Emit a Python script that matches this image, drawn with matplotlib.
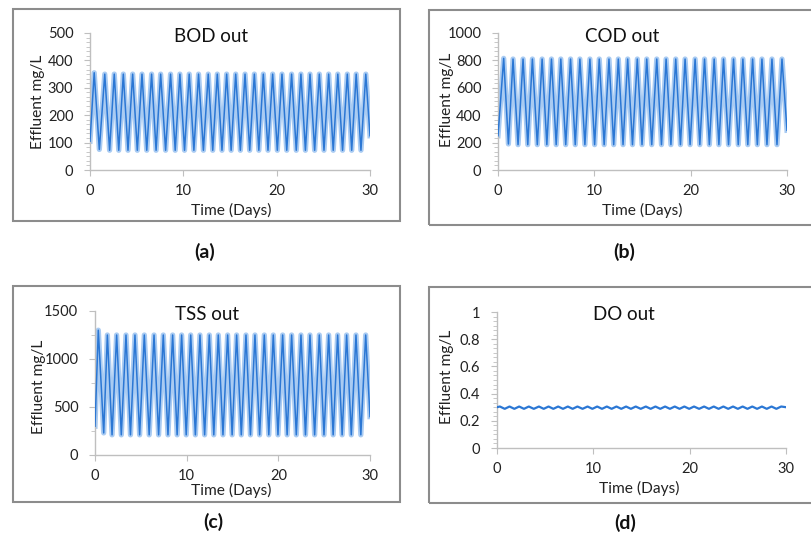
import matplotlib
matplotlib.use("Agg")
import matplotlib.pyplot as plt
from matplotlib.patches import Rectangle
from matplotlib.ticker import MultipleLocator

plt.rcParams['font.family'] = ['Lato', 'DejaVu Sans']

# ---------------- data (vertices of the oscillation) -------------
days_ticks = [0, 10, 20, 30]

bod_start = (0.0, 105)
bod_end = (30.0, 125)
bod_peak_t = [0.45, 1.58, 2.6, 3.57, 4.57, 5.57, 6.6, 7.57, 8.63, 9.63, 10.63, 11.63, 12.67, 13.64, 14.64,
              15.61, 16.61, 17.61, 18.57, 19.57, 20.57, 21.6, 22.6, 23.57, 24.57, 25.57, 26.55, 27.57, 28.52, 29.55]
bod_peak_v = [355, 350, 350, 350, 350, 350, 350, 350, 350, 350, 350, 350, 350, 350, 350,
              350, 350, 350, 350, 350, 350, 350, 350, 350, 350, 350, 350, 350, 350, 350]
bod_trough_t = [1.0, 2.1, 3.08, 4.07, 5.07, 6.08, 7.08, 8.1, 9.13, 10.13, 11.13, 12.15, 13.15, 14.14, 15.12,
                16.11, 17.11, 18.09, 19.07, 20.07, 21.08, 22.1, 23.08, 24.07, 25.07, 26.06, 27.06, 28.04, 29.03]
bod_trough_v = [75, 72, 72, 72, 72, 72, 72, 72, 72, 72, 72, 72, 72, 72, 72,
                72, 72, 72, 72, 72, 72, 72, 72, 72, 72, 72, 72, 72, 72]

cod_start = (0.0, 250)
cod_end = (30.0, 290)
cod_peak_t = [0.59, 1.56, 2.6, 3.57, 4.58, 5.55, 6.52, 7.53, 8.5, 9.54, 10.51, 11.52, 12.49, 13.46, 14.46,
              15.44, 16.48, 17.45, 18.45, 19.42, 20.46, 21.44, 22.44, 23.41, 24.45, 25.42, 26.43, 27.4, 28.44, 29.48]
cod_peak_v = [815, 810, 810, 810, 810, 810, 810, 810, 810, 810, 810, 810, 810, 810, 810,
              810, 810, 810, 810, 810, 810, 810, 810, 810, 810, 810, 810, 810, 810, 810]
cod_trough_t = [1.08, 2.08, 3.09, 4.08, 5.07, 6.04, 7.03, 8.02, 9.02, 10.03, 11.02, 12.01, 12.98, 13.96, 14.95,
                15.96, 16.97, 17.95, 18.94, 19.94, 20.95, 21.94, 22.93, 23.93, 24.94, 25.93, 26.92, 27.92, 28.96]
cod_trough_v = [190, 185, 185, 185, 185, 185, 185, 185, 185, 185, 185, 185, 185, 185, 185,
                185, 185, 185, 185, 185, 185, 185, 185, 185, 185, 185, 185, 185, 185]

tss_start = (0.0, 300)
tss_end = (30.0, 400)
tss_peak_t = [0.36, 1.35, 2.36, 3.38, 4.36, 5.38, 6.44, 7.45, 8.47, 9.45, 10.44, 11.45, 12.47, 13.45, 14.47,
              15.45, 16.47, 17.45, 18.47, 19.45, 20.47, 21.45, 22.47, 23.45, 24.47, 25.49, 26.47, 27.45, 28.47, 29.53]
tss_peak_v = [1300, 1250, 1250, 1250, 1250, 1250, 1250, 1250, 1250, 1250, 1250, 1250, 1250, 1250, 1250,
              1250, 1250, 1250, 1250, 1250, 1250, 1250, 1250, 1250, 1250, 1250, 1250, 1250, 1250, 1250]
tss_trough_t = [0.95, 1.86, 2.87, 3.87, 4.87, 5.91, 6.94, 7.96, 8.96, 9.95, 10.95, 11.96, 12.96, 13.96, 14.96,
                15.96, 16.96, 17.96, 18.96, 19.96, 20.96, 21.96, 22.96, 23.96, 24.98, 25.98, 26.96, 27.96, 29.0]
tss_trough_v = [230, 210, 210, 210, 210, 210, 210, 210, 210, 210, 210, 210, 210, 210, 210,
                210, 210, 210, 210, 210, 210, 210, 210, 210, 210, 210, 210, 210, 210]

do_start = (0.0, 0.30)
do_end = (30.0, 0.30)
do_peak_t = [0.3, 1.3, 2.3, 3.3, 4.35, 5.35, 6.35, 7.35, 8.35, 9.4, 10.4, 11.4, 12.4, 13.4, 14.4,
             15.45, 16.45, 17.45, 18.45, 19.45, 20.45, 21.5, 22.5, 23.5, 24.5, 25.5, 26.5, 27.5, 28.5, 29.5]
do_peak_v = [0.305, 0.305, 0.305, 0.305, 0.305, 0.305, 0.305, 0.305, 0.305, 0.305, 0.305, 0.305, 0.305, 0.305, 0.305,
             0.305, 0.305, 0.305, 0.305, 0.305, 0.305, 0.305, 0.305, 0.305, 0.305, 0.305, 0.305, 0.305, 0.305, 0.305]
do_trough_t = [0.8, 1.8, 2.8, 3.82, 4.85, 5.85, 6.85, 7.85, 8.88, 9.9, 10.9, 11.9, 12.9, 13.9, 14.92,
               15.95, 16.95, 17.95, 18.95, 19.95, 20.98, 22.0, 23.0, 24.0, 25.0, 26.0, 27.0, 28.0, 29.0]
do_trough_v = [0.288, 0.288, 0.288, 0.288, 0.288, 0.288, 0.288, 0.288, 0.288, 0.288, 0.288, 0.288, 0.288, 0.288, 0.288,
               0.288, 0.288, 0.288, 0.288, 0.288, 0.288, 0.288, 0.288, 0.288, 0.288, 0.288, 0.288, 0.288, 0.288]

titles = ["BOD out", "COD out", "TSS out", "DO out"]
panel_labels = ["(a)", "(b)", "(c)", "(d)"]
y_limits = [(0, 500), (0, 1000), (0, 1500), (0, 1)]
y_major = [100, 200, 500, 0.2]
y_minor = [100 / 6, 200 / 6, 250, 0.2 / 6]
y_fmt = ["{:.0f}", "{:.0f}", "{:.0f}", "{:g}"]

series = [
    (bod_start, bod_peak_t, bod_peak_v, bod_trough_t, bod_trough_v, bod_end),
    (cod_start, cod_peak_t, cod_peak_v, cod_trough_t, cod_trough_v, cod_end),
    (tss_start, tss_peak_t, tss_peak_v, tss_trough_t, tss_trough_v, tss_end),
    (do_start, do_peak_t, do_peak_v, do_trough_t, do_trough_v, do_end),
]

# ---------------- layout -------------
W, H = 812, 538
fig = plt.figure(figsize=(W / 100, H / 100), dpi=100)
fig.patch.set_facecolor('white')


def fx(px):
    return px / W


def fy(py):
    return 1 - py / H


# axes rectangles in pixels: left, right, top, bottom
ax_px = [(90, 370, 33, 170), (498, 787, 33, 170), (95, 370, 311, 455), (497, 786, 312, 448)]
box_px = [(13, 400, 9, 221), (429, 813, 10, 225), (13, 400, 286, 502), (429, 813, 287, 503)]
title_px = [(211, 36), (622, 36), (207, 314), (624, 314)]
ylab_px = [(38, 102), (447, 100), (39, 387), (447, 377)]
xlab_px = [(231, 210), (642, 210), (231, 490), (639, 488)]
plab_px = [(205, 252), (624, 252), (213, 522), (625, 523)]

grey = '#bfbfbf'
for i in range(4):
    l, r, t, b = ax_px[i]
    ax = fig.add_axes([fx(l), fy(b), (r - l) / W, (b - t) / H])
    st, pt, pv, tt, tv, en = series[i]
    pts = [st] + list(zip(pt, pv)) + list(zip(tt, tv)) + [en]
    pts.sort(key=lambda p: p[0])
    xs = [p[0] for p in pts]
    ys = [p[1] for p in pts]
    if i < 3:
        ax.plot(xs, ys, color='#a9cbf2', lw=3.8, solid_joinstyle='round', zorder=2)
        ax.plot(xs, ys, color='#2b77d4', lw=1.1, solid_joinstyle='round', zorder=3)
    else:
        ax.plot(xs, ys, color='#2b77d4', lw=1.6, zorder=3)
    ax.set_xlim(0, 30)
    ax.set_ylim(*y_limits[i])
    ax.set_xticks(days_ticks)
    ax.set_xticklabels([str(d) for d in days_ticks])
    ax.yaxis.set_major_locator(MultipleLocator(y_major[i]))
    ax.yaxis.set_minor_locator(MultipleLocator(y_minor[i]))
    ticks = ax.get_yticks()
    ax.set_yticks(ticks)
    ax.set_yticklabels([y_fmt[i].format(v) for v in ticks])
    ax.set_ylim(*y_limits[i])
    for s in ['top', 'right']:
        ax.spines[s].set_visible(False)
    for s in ['left', 'bottom']:
        ax.spines[s].set_color(grey)
        ax.spines[s].set_linewidth(1.0)
    ax.tick_params(axis='both', which='major', length=4, color=grey, labelsize=10.5,
                   labelcolor='#222222', direction='out')
    ax.tick_params(axis='x', pad=6)
    ax.tick_params(axis='y', pad=8)
    ax.tick_params(axis='y', which='minor', length=3, color=grey, direction='out')
    ax.set_facecolor('none')

    # panel box
    bl, br, bt, bb = box_px[i]
    fig.patches.append(Rectangle((fx(bl), fy(bb)), (br - bl) / W, (bb - bt) / H,
                                 transform=fig.transFigure, fill=False,
                                 edgecolor='#8c8c8c', lw=1.5, zorder=0))
    fig.text(fx(title_px[i][0]), fy(title_px[i][1]), titles[i], ha='center', va='center',
             fontsize=13.5, color='#111111')
    fig.text(fx(ylab_px[i][0]), fy(ylab_px[i][1]), 'Effluent mg/L', ha='center', va='center',
             rotation=90, fontsize=11.2, color='#222222')
    fig.text(fx(xlab_px[i][0]), fy(xlab_px[i][1]), 'Time (Days)', ha='center', va='center',
             fontsize=11.2, color='#222222')
    fig.text(fx(plab_px[i][0]), fy(plab_px[i][1]), panel_labels[i], ha='center', va='center',
             fontsize=14, fontweight='bold', color='#111111')

fig.savefig('out.png', dpi=100, facecolor='white')
